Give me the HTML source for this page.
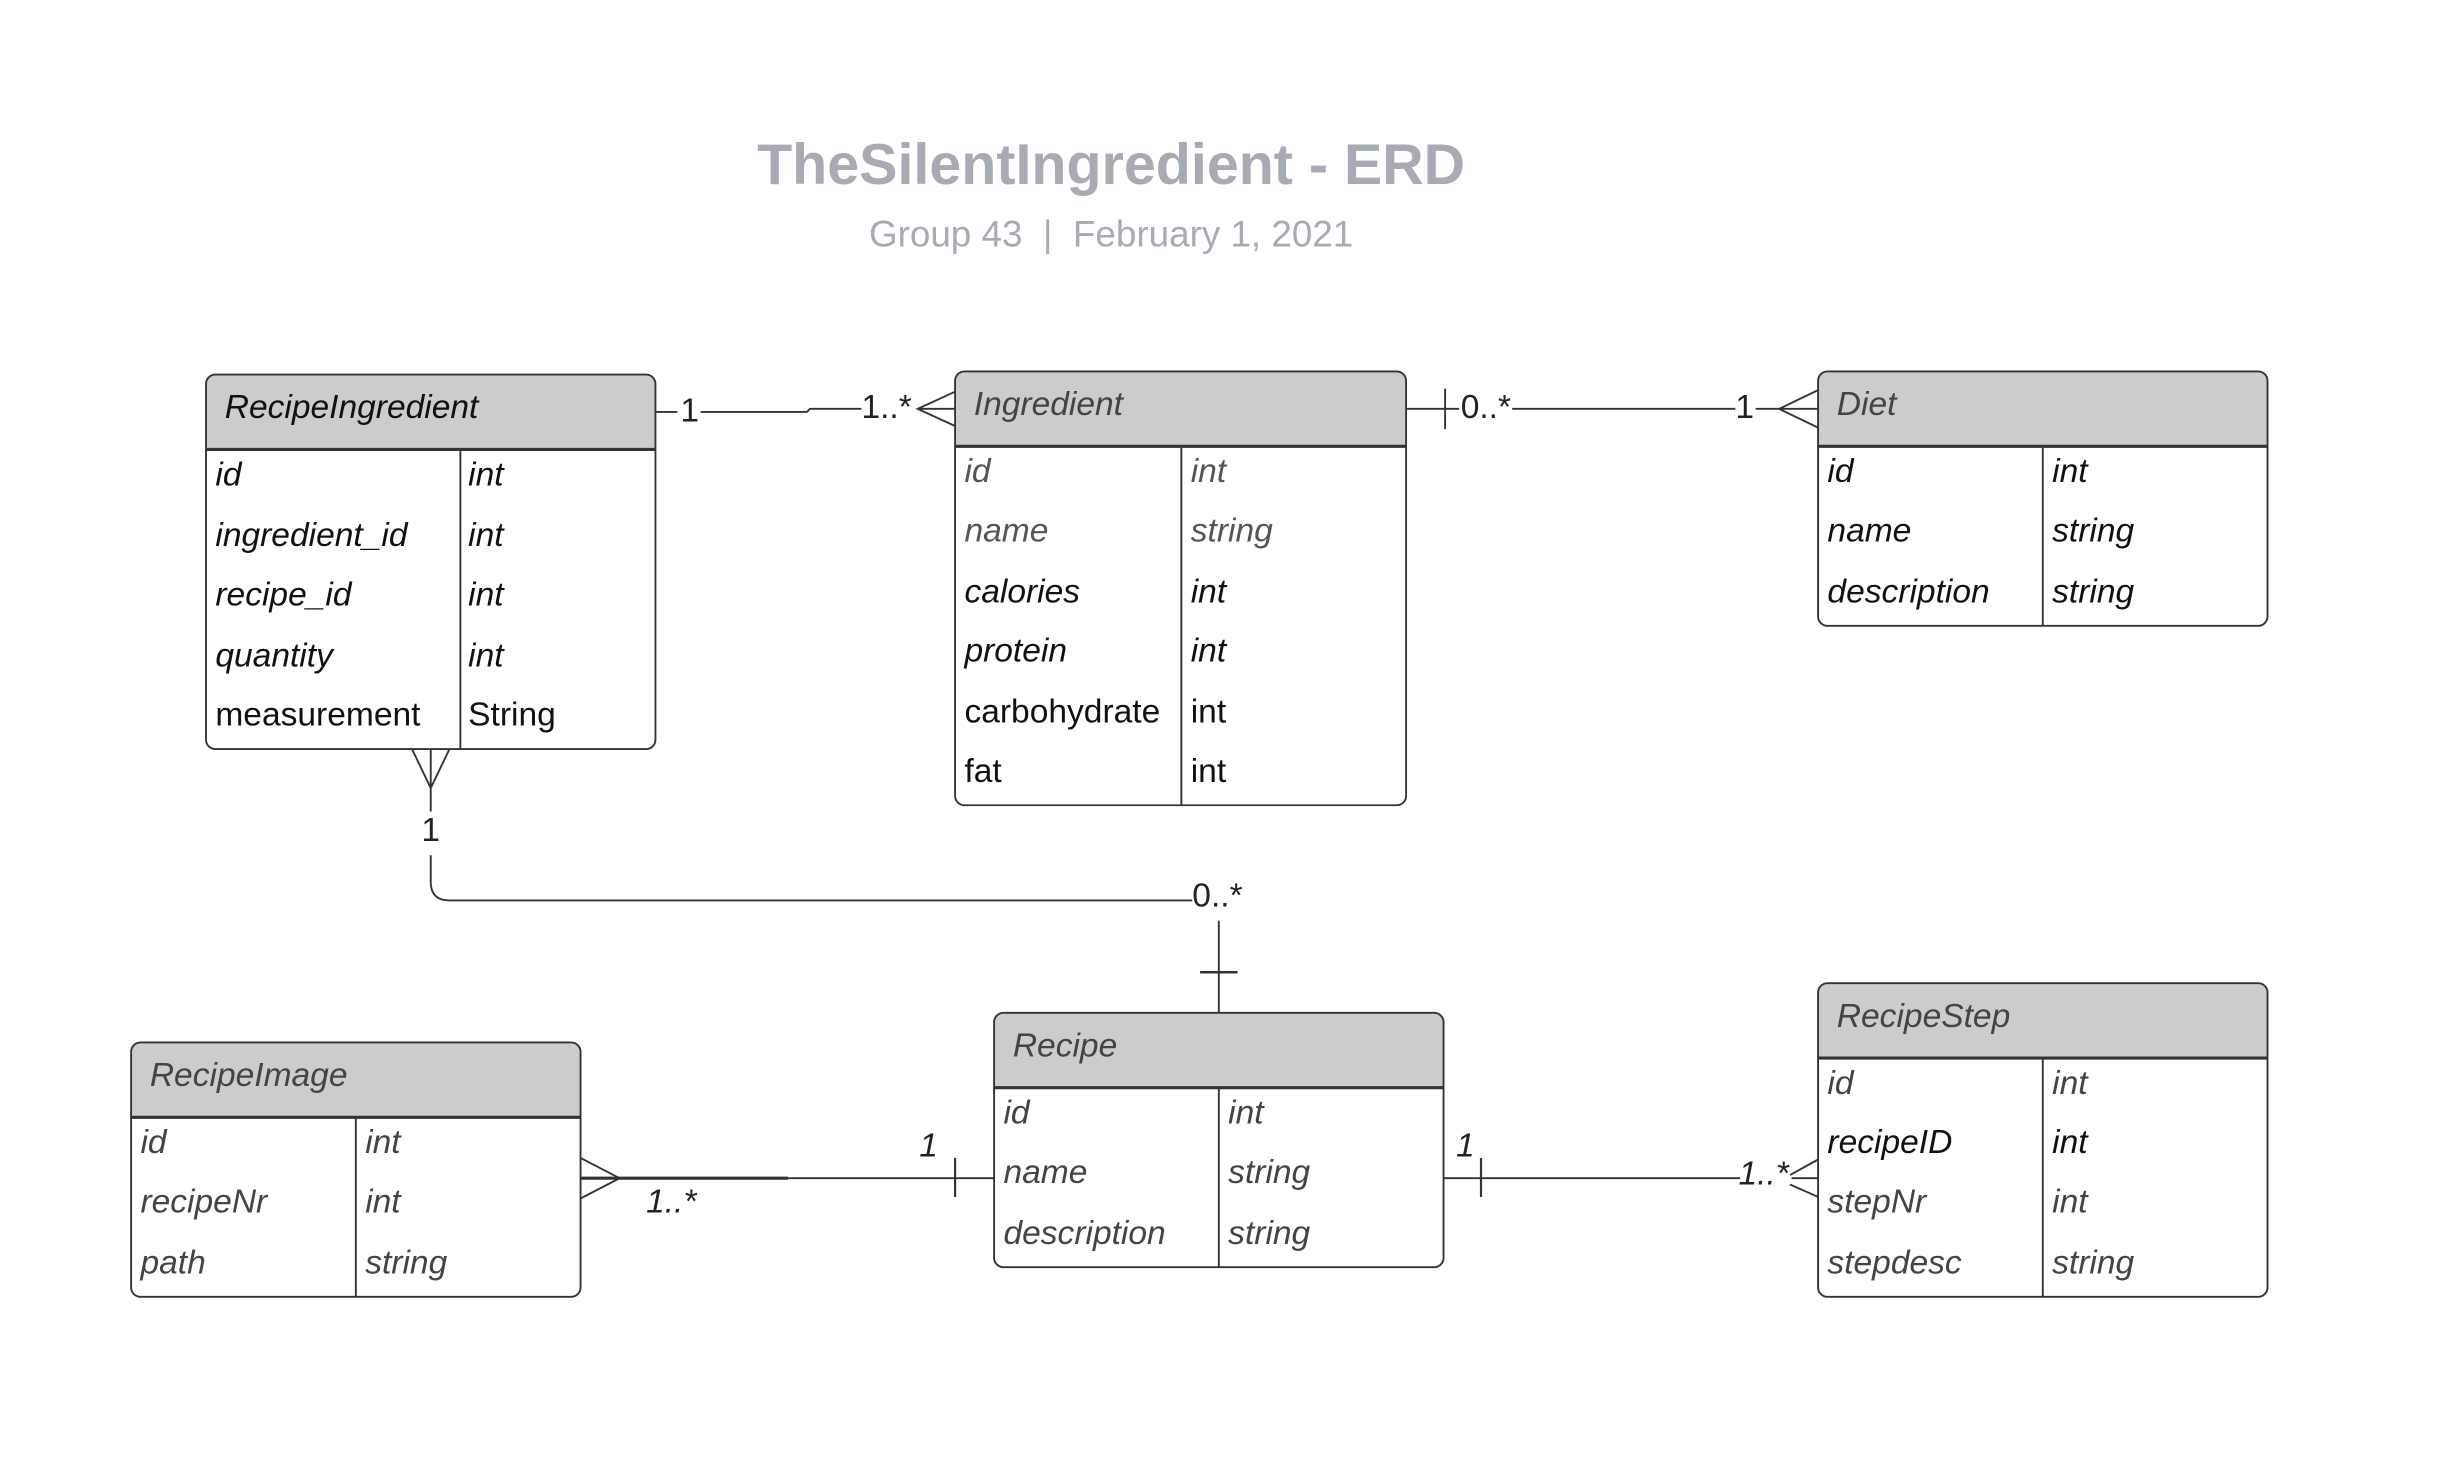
<!DOCTYPE html>
<html><head><meta charset="utf-8"><style>
html,body{margin:0;padding:0;background:#fff;}
svg{display:block;}
text{font-family:"Liberation Sans",sans-serif;}
</style></head><body>
<svg width="2447" height="1461" viewBox="0 0 1568 936.2" xmlns="http://www.w3.org/2000/svg">
<rect x="0" y="0" width="1568" height="936.2" fill="#fff"/>
<text x="712" y="118" text-anchor="middle" font-size="36.8" font-weight="bold" fill="#a6abb4">TheSilentIngredient - ERD</text>
<text x="712" y="158" text-anchor="middle" font-size="23.6" fill="#a6abb4">Group 43&#160;&#160;|&#160;&#160;February 1, 2021</text>

<g stroke="#333" stroke-width="1.2" fill="none">
<path d="M132,288 V246 a6,6 0 0 1 6,-6 H414 a6,6 0 0 1 6,6 V288 Z" fill="#cccccc"/>
<path d="M132,288 V474 a6,6 0 0 0 6,6 H414 a6,6 0 0 0 6,-6 V288"/>
<line x1="132" y1="288" x2="420" y2="288" stroke-width="2"/>
<line x1="295" y1="288" x2="295" y2="480"/>
<path d="M612,286 V244 a6,6 0 0 1 6,-6 H895 a6,6 0 0 1 6,6 V286 Z" fill="#cccccc"/>
<path d="M612,286 V510 a6,6 0 0 0 6,6 H895 a6,6 0 0 0 6,-6 V286"/>
<line x1="612" y1="286" x2="901" y2="286" stroke-width="2"/>
<line x1="757" y1="286" x2="757" y2="516"/>
<path d="M1165,286 V244 a6,6 0 0 1 6,-6 H1447 a6,6 0 0 1 6,6 V286 Z" fill="#cccccc"/>
<path d="M1165,286 V395 a6,6 0 0 0 6,6 H1447 a6,6 0 0 0 6,-6 V286"/>
<line x1="1165" y1="286" x2="1453" y2="286" stroke-width="2"/>
<line x1="1309" y1="286" x2="1309" y2="401"/>
<path d="M84,716 V674 a6,6 0 0 1 6,-6 H366 a6,6 0 0 1 6,6 V716 Z" fill="#cccccc"/>
<path d="M84,716 V825 a6,6 0 0 0 6,6 H366 a6,6 0 0 0 6,-6 V716"/>
<line x1="84" y1="716" x2="372" y2="716" stroke-width="2"/>
<line x1="228" y1="716" x2="228" y2="831"/>
<path d="M637,697 V655 a6,6 0 0 1 6,-6 H919 a6,6 0 0 1 6,6 V697 Z" fill="#cccccc"/>
<path d="M637,697 V806 a6,6 0 0 0 6,6 H919 a6,6 0 0 0 6,-6 V697"/>
<line x1="637" y1="697" x2="925" y2="697" stroke-width="2"/>
<line x1="781" y1="697" x2="781" y2="812"/>
<path d="M1165,678 V636 a6,6 0 0 1 6,-6 H1447 a6,6 0 0 1 6,6 V678 Z" fill="#cccccc"/>
<path d="M1165,678 V825 a6,6 0 0 0 6,6 H1447 a6,6 0 0 0 6,-6 V678"/>
<line x1="1165" y1="678" x2="1453" y2="678" stroke-width="2"/>
<line x1="1309" y1="678" x2="1309" y2="831"/>

<line x1="420" y1="264" x2="434" y2="264"/>
<path d="M449,264 H517 L519,262 H552"/>
<path d="M612,262 H588 M612,251 L588,262 L612,273"/>
<line x1="901" y1="262" x2="935" y2="262"/>
<line x1="926" y1="249" x2="926" y2="275"/>
<line x1="969" y1="262" x2="1112" y2="262"/>
<path d="M1125,262 H1140 M1165,250 L1140,262 L1165,274 M1140,262 H1165"/>
<path d="M264,480 L276,505 L288,480 M276,480 V520"/>
<path d="M276,548 V565 Q276,577 288,577 H764"/>
<line x1="781" y1="590" x2="781" y2="649"/>
<line x1="769" y1="623" x2="793" y2="623" stroke-width="1.6"/>
<path d="M372,742 L397,755 L372,768"/>
<line x1="372" y1="755" x2="505" y2="755" stroke-width="2"/>
<line x1="505" y1="755" x2="637" y2="755"/>
<line x1="612" y1="742" x2="612" y2="767" stroke-width="1.4"/>
<line x1="925" y1="755" x2="1115" y2="755"/>
<line x1="949" y1="742" x2="949" y2="767" stroke-width="1.4"/>
<path d="M1148,755 H1165 M1165,743 L1147,753 M1147,759 L1165,767"/>
</g>

<g font-size="21.5">
<text x="436" y="270" fill="#222">1</text>
<text x="552" y="268" fill="#222">1..*</text>
<text x="936" y="268" fill="#222">0..*</text>
<text x="1112" y="268" fill="#222">1</text>
<text x="276" y="539" text-anchor="middle" fill="#222">1</text>
<text x="764" y="581" fill="#222">0..*</text>
<text x="414" y="777" font-style="italic" fill="#222">1..*</text>
<text x="589" y="741" font-style="italic" fill="#222">1</text>
<text x="933" y="741" font-style="italic" fill="#222">1</text>
<text x="1114" y="759" font-style="italic" fill="#222">1..*</text>

<text x="144" y="268" font-style="italic" fill="#111">RecipeIngredient</text>
<g font-style="italic" fill="#111">
<text x="138" y="311">id</text><text x="300" y="311">int</text>
<text x="138" y="350">ingredient_id</text><text x="300" y="350">int</text>
<text x="138" y="388">recipe_id</text><text x="300" y="388">int</text>
<text x="138" y="427">quantity</text><text x="300" y="427">int</text>
</g>
<text x="138" y="465" fill="#111">measurement</text><text x="300" y="465" fill="#111">String</text>

<text x="624" y="266" font-style="italic" fill="#444">Ingredient</text>
<g font-style="italic" fill="#555">
<text x="618" y="309">id</text><text x="763" y="309">int</text>
<text x="618" y="347">name</text><text x="763" y="347">string</text>
</g>
<g font-style="italic" fill="#111">
<text x="618" y="386">calories</text><text x="763" y="386">int</text>
<text x="618" y="424">protein</text><text x="763" y="424">int</text>
</g>
<text x="618" y="463" fill="#111">carbohydrate</text><text x="763" y="463" fill="#111">int</text>
<text x="618" y="501" fill="#111">fat</text><text x="763" y="501" fill="#111">int</text>

<text x="1177" y="266" font-style="italic" fill="#444">Diet</text>
<g font-style="italic" fill="#111">
<text x="1171" y="309">id</text><text x="1315" y="309">int</text>
<text x="1171" y="347">name</text><text x="1315" y="347">string</text>
<text x="1171" y="386">description</text><text x="1315" y="386">string</text>
</g>

<text x="96" y="696" font-style="italic" fill="#444">RecipeImage</text>
<g font-style="italic" fill="#444">
<text x="90" y="739">id</text><text x="234" y="739">int</text>
<text x="90" y="777">recipeNr</text><text x="234" y="777">int</text>
<text x="90" y="816">path</text><text x="234" y="816">string</text>
</g>

<text x="649" y="677" font-style="italic" fill="#444">Recipe</text>
<g font-style="italic" fill="#444">
<text x="643" y="720">id</text><text x="787" y="720">int</text>
<text x="643" y="758">name</text><text x="787" y="758">string</text>
<text x="643" y="797">description</text><text x="787" y="797">string</text>
</g>

<text x="1177" y="658" font-style="italic" fill="#444">RecipeStep</text>
<g font-style="italic" fill="#444">
<text x="1171" y="701">id</text><text x="1315" y="701">int</text>
<text x="1171" y="739" fill="#111">recipeID</text><text x="1315" y="739" fill="#111">int</text>
<text x="1171" y="777">stepNr</text><text x="1315" y="777">int</text>
<text x="1171" y="816">stepdesc</text><text x="1315" y="816">string</text>
</g>
</g>
</svg>
</body></html>
